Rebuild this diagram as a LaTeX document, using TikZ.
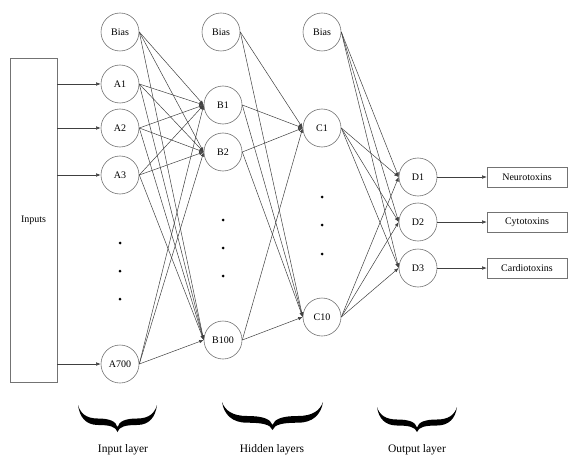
\documentclass[tikz,border=0pt]{standalone}
\usepackage{fontspec}
\setmainfont{Liberation Serif}
\usetikzlibrary{arrows.meta}
\tikzset{
 neuron/.style={circle,draw=black!55,line width=0.6pt,minimum size=38pt,inner sep=0pt,font=\fontsize{10}{12}\selectfont},
 conn/.style={draw=black!75,line width=0.5pt,-{Latex[length=4.5pt,width=3.5pt]}},
 outbox/.style={draw=black!55,line width=0.6pt,minimum width=80pt,minimum height=20pt,inner sep=0pt,font=\fontsize{10}{12}\selectfont},
 dotmark/.style={circle,fill=black,inner sep=0pt,minimum size=3pt},
 lbl/.style={font=\fontsize{11.5}{13}\selectfont},
 mybrace/.pic={\fill[black] (0,0) .. controls (0.02,0.45) and (0.1,0.74) .. (0.25,0.74) .. controls (0.4,0.74) and (0.48,0.8) .. (0.5,1) .. controls (0.52,0.8) and (0.6,0.74) .. (0.75,0.74) .. controls (0.9,0.74) and (0.98,0.45) .. (1,0) .. controls (0.97,0.3) and (0.9,0.5) .. (0.75,0.5) .. controls (0.6,0.5) and (0.52,0.6) .. (0.5,0.82) .. controls (0.48,0.6) and (0.4,0.5) .. (0.25,0.5) .. controls (0.1,0.5) and (0.03,0.3) .. (0,0) -- cycle;}
}
\begin{document}
\begin{tikzpicture}[x=1pt,y=-1pt]
\useasboundingbox (0,0) rectangle (569,457);
% input box
\node[draw=black!55,line width=0.6pt,minimum width=47pt,minimum height=324pt,inner sep=0pt,font=\fontsize{10}{12}\selectfont] (in) at (33.5,220) {Inputs};
% input layer
\node[neuron] (ba) at (120,32) {Bias};
\node[neuron] (a1) at (120,84) {A1};
\node[neuron] (a2) at (120,128) {A2};
\node[neuron] (a3) at (120,175) {A3};
\node[neuron] (a700) at (120,364) {A700};
\node[dotmark] (da1) at (120,243) {};
\node[dotmark] (da2) at (120,271) {};
\node[dotmark] (da3) at (120,299) {};
% hidden layer B
\node[neuron] (bb) at (221,32) {Bias};
\node[neuron] (b1) at (223,105) {B1};
\node[neuron] (b2) at (223,152) {B2};
\node[neuron] (b100) at (223,340) {B100};
\node[dotmark] (db1) at (223,220) {};
\node[dotmark] (db2) at (223,248) {};
\node[dotmark] (db3) at (223,276) {};
% hidden layer C
\node[neuron] (bc) at (322,32) {Bias};
\node[neuron] (c1) at (322,128) {C1};
\node[neuron] (c10) at (322,317) {C10};
\node[dotmark] (dc1) at (322,197) {};
\node[dotmark] (dc2) at (322,225) {};
\node[dotmark] (dc3) at (322,254) {};
% output layer
\node[neuron] (d1) at (418,177) {D1};
\node[neuron] (d2) at (418,222) {D2};
\node[neuron] (d3) at (418,268) {D3};
\node[outbox] (o1) at (527,177) {Neurotoxins};
\node[outbox] (o2) at (527,222) {Cytotoxins};
\node[outbox] (o3) at (527,268) {Cardiotoxins};
% connections
\foreach \t in {a1,a2,a3,a700} \draw[conn] (in.east |- \t) -- (\t.west);
\foreach \s in {ba,a1,a2,a3,a700} \foreach \t in {b1,b2,b100} \draw[conn] (\s.east) -- (\t.west);
\foreach \s in {bb,b1,b2,b100} \foreach \t in {c1,c10} \draw[conn] (\s.east) -- (\t.west);
\foreach \s in {bc,c1,c10} \foreach \t in {d1,d2,d3} \draw[conn] (\s.east) -- (\t.west);
\draw[conn] (d1) -- (o1);
\draw[conn] (d2) -- (o2);
\draw[conn] (d3) -- (o3);
% braces and labels
\pic[xscale=79,yscale=27] at (78,405) {mybrace};
\pic[xscale=101,yscale=28] at (222,402) {mybrace};
\pic[xscale=80,yscale=25] at (377,407) {mybrace};
\node[lbl] (l1) at (123,450) {Input layer};
\node[lbl] (l2) at (272,450) {Hidden layers};
\node[lbl] (l3) at (417,450) {Output layer};
\end{tikzpicture}
\end{document}
